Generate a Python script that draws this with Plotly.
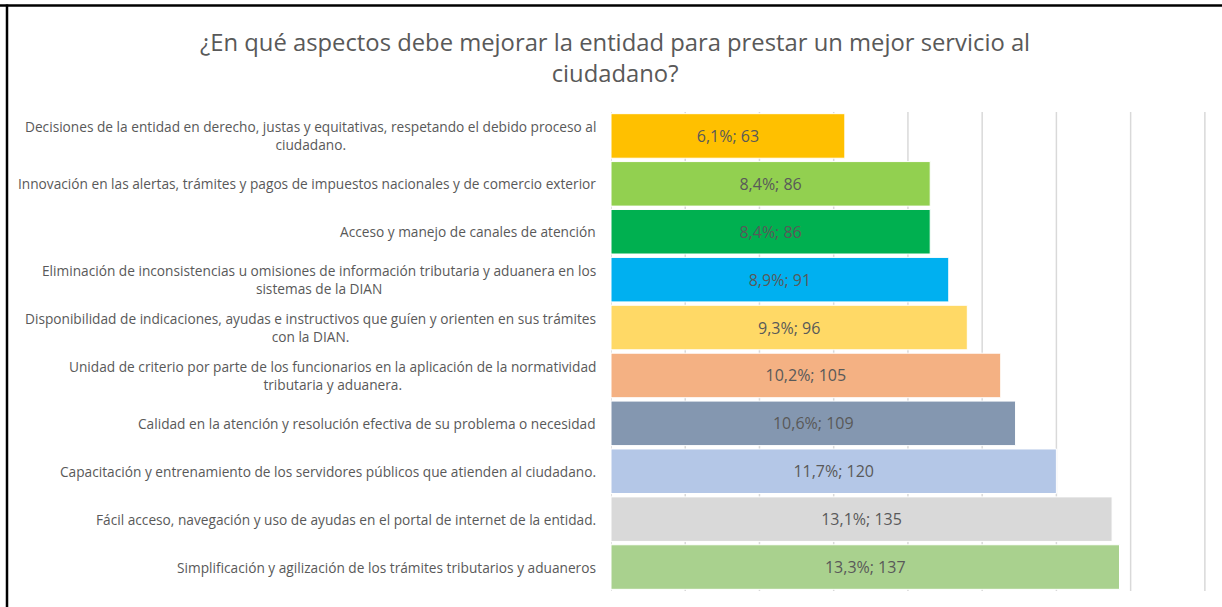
import plotly.graph_objects as go

categories = [
    "Decisiones de la entidad en derecho, justas y equitativas, respetando el debido proceso al<br>ciudadano.",
    "Innovación en las alertas, trámites y pagos de impuestos nacionales y de comercio exterior",
    "Acceso y manejo de canales de atención",
    "Eliminación de inconsistencias u omisiones de información tributaria y aduanera en los<br>sistemas de la DIAN",
    "Disponibilidad de indicaciones, ayudas e instructivos que guíen y orienten en sus trámites<br>con la DIAN.",
    "Unidad de criterio por parte de los funcionarios en la aplicación de la normatividad<br>tributaria y aduanera.",
    "Calidad en la atención y resolución efectiva de su problema o necesidad",
    "Capacitación y entrenamiento de los servidores públicos que atienden al ciudadano.",
    "Fácil acceso, navegación y uso de ayudas en el portal de internet de la entidad.",
    "Simplificación y agilización de los trámites tributarios y aduaneros",
]
counts = [63, 86, 86, 91, 96, 105, 109, 120, 135, 137]
percents = [6.1, 8.4, 8.4, 8.9, 9.3, 10.2, 10.6, 11.7, 13.1, 13.3]
colors = ["#FFC000", "#92D050", "#00B050", "#00B0F0", "#FFD966",
          "#F4B183", "#8497B0", "#B4C7E7", "#D9D9D9", "#A9D18E"]
grid_values = [0, 20, 40, 60, 80, 100, 120, 140, 160]
title_text = "¿En qué aspectos debe mejorar la entidad para prestar un mejor servicio al<br>ciudadano?"

W, H = 1222, 607
L, R, T, B = 611, 6, 112, 16
pw, ph = W - L - R, H - T - B

def px_x(p):
    return (p - L) / pw

def px_y(p):
    return (H - B - p) / ph

labels = [f"{str(p).replace('.', ',')}%; {c}" for p, c in zip(percents, counts)]
ids = [f"c{i}" for i in range(len(categories))]

fig = go.Figure()
fig.add_trace(go.Bar(
    x=counts, y=ids, orientation="h",
    marker=dict(color=colors, line=dict(color="white", width=1)),
    text=labels, textposition="inside", insidetextanchor="middle",
    textangle=0,
    textfont=dict(family="Open Sans", size=16, color="#595959"),
    hoverinfo="skip",
))

# vertical gridlines at the axis values, drawn beneath the bars
for gv in grid_values:
    fig.add_shape(type="line", xref="x", yref="paper", x0=gv, x1=gv, y0=0, y1=1,
                  layer="below", line=dict(color="#D9D9D9", width=1.5))

for cid, cat in zip(ids, categories):
    fig.add_annotation(
        x=px_x(598), xref="paper", y=cid, yref="y",
        text=cat, showarrow=False, xanchor="right", yanchor="middle",
        align="center", font=dict(family="Open Sans", size=13.7, color="#595959"),
    )

fig.add_annotation(
    x=px_x(615), xref="paper", y=px_y(57), yref="paper",
    text=title_text, showarrow=False, xanchor="center", yanchor="middle",
    align="center", font=dict(family="Open Sans", size=23.8, color="#595959"),
)

# outer border lines (top and left), as in the screenshot
fig.add_shape(type="line", xref="paper", yref="paper",
              x0=px_x(0), x1=px_x(W + 2), y0=px_y(5.5), y1=px_y(5.5),
              line=dict(color="black", width=2.5))
fig.add_shape(type="line", xref="paper", yref="paper",
              x0=px_x(7), x1=px_x(7), y0=px_y(4.5), y1=px_y(H + 2),
              line=dict(color="black", width=2.5))

fig.update_layout(
    width=W, height=H,
    margin=dict(l=L, r=R, t=T, b=B),
    paper_bgcolor="white", plot_bgcolor="white",
    showlegend=False, bargap=0.07,
    xaxis=dict(range=[0, 163], showgrid=False, showticklabels=False,
               zeroline=False, fixedrange=True),
    yaxis=dict(autorange="reversed", showticklabels=False, showgrid=False,
               zeroline=False, fixedrange=True),
)

fig.write_html(
    "out.html",
    config={"displayModeBar": False},
    post_script="document.body.style.margin='0px';document.body.style.overflow='hidden';",
)
